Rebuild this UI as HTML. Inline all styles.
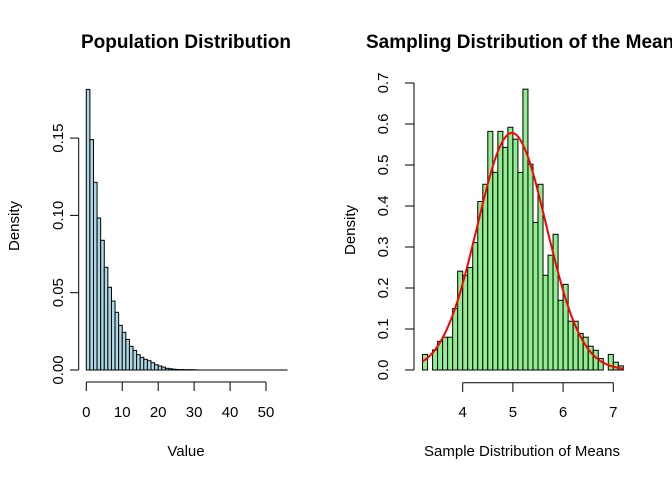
<!DOCTYPE html>
<html><head><meta charset="utf-8"><style>
body{margin:0;background:#fff}
svg{display:block;font-family:"Liberation Sans",Arial,sans-serif}
</style></head><body>
<svg id="c" width="672" height="480" viewBox="0 0 672 480">
<text x="186" y="48" text-anchor="middle" font-weight="bold" font-size="19">Population Distribution</text>
<text x="366" y="48" font-weight="bold" font-size="19">Sampling Distribution of the Mean</text>
<text transform="translate(19,226) rotate(-90)" text-anchor="middle" font-size="15">Density</text>
<text x="186" y="456" text-anchor="middle" font-size="15">Value</text>
<text transform="translate(355,230) rotate(-90)" text-anchor="middle" font-size="15">Density</text>
<text x="522" y="456" text-anchor="middle" font-size="15">Sample Distribution of Means</text>
<g id="L"></g>
<g id="R"></g>
</svg>
<script>
const popDensity=[0.1815,0.149,0.1214,0.0983,0.0839,0.0664,0.0535,0.0446,0.0373,0.0289,0.0244,0.0198,0.0153,0.0127,0.0099,0.0082,0.0069,0.006,0.0047,0.0034,0.0026,0.0019,0.0011,0.0008,0.0005,0.0003,0.0003,0.0002,0.0002,0.0002,0.0001,0,0,0,0,0,0,0,0,0,0,0,0,0,0,0,0,0,0,0,0,0,0,0,0,0];
const popXTicks=[0,10,20,30,40,50];
const popYTicks=["0.00","0.05","0.10","0.15"];
const sampStart=3.2, sampWidth=0.1;
const sampDensity=[0.038,0,0.049,0.07,0.08,0.08,0.15,0.241,0.231,0.25,0.311,0.411,0.453,0.582,0.482,0.582,0.543,0.592,0.563,0.482,0.685,0.502,0.36,0.453,0.231,0.28,0.331,0.17,0.209,0.119,0.119,0.089,0.08,0.058,0.048,0.028,0,0.038,0.019,0.01];
const sampXTicks=[4,5,6,7];
const sampYTicks=["0.0","0.1","0.2","0.3","0.4","0.5","0.6","0.7"];
const normMean=4.98, normSd=0.69;
const NS="http://www.w3.org/2000/svg";
function mk(p,t,a,txt){const e=document.createElementNS(NS,t);for(const k in a)e.setAttribute(k,a[k]);if(txt!==undefined)e.textContent=txt;p.appendChild(e);return e;}
// left
const L=document.getElementById('L');
const lx=v=>86.3+v*3.594, ly=v=>370-v*1546;
mk(L,'line',{x1:lx(0),x2:lx(popDensity.length),y1:370,y2:370,stroke:'#000'});
popDensity.forEach((d,i)=>{
 if(d<=0)return;
 const r=mk(L,'rect',{x:lx(i),y:ly(d),width:3.594,height:370-ly(d),fill:'#add8e6',stroke:'#000','stroke-width':1});
 
 
});
mk(L,'line',{x1:lx(0),x2:lx(popXTicks[popXTicks.length-1]),y1:382,y2:382,stroke:'#000'});
popXTicks.forEach(t=>{mk(L,'line',{x1:lx(t),x2:lx(t),y1:382,y2:391,stroke:'#000'});
 const e=mk(L,'text',{x:lx(t),y:417,'text-anchor':'middle','font-size':15},String(t));
 
 });
mk(L,'line',{x1:78.7,x2:78.7,y1:ly(0),y2:ly(0.15),stroke:'#000'});
popYTicks.forEach(t=>{const y=ly(+t);mk(L,'line',{x1:70,x2:78.7,y1:y,y2:y,stroke:'#000'});
 const e=mk(L,'text',{transform:`translate(63,${y}) rotate(-90)`,'text-anchor':'middle','font-size':15},t);
 
 });
// right
const R=document.getElementById('R');
const rx=v=>462.7+(v-4)*50.2, ry=v=>370-v*410;
sampDensity.forEach((d,i)=>{
 if(d<=0)return;
 const x0=sampStart+i*sampWidth;
 const r=mk(R,'rect',{x:rx(x0),y:ry(d),width:rx(x0+sampWidth)-rx(x0),height:370-ry(d),fill:'#90ee90',stroke:'#000','stroke-width':1});
 
 
});
let pts=[];const x1=sampStart,x2=sampStart+sampDensity.length*sampWidth;
for(let k=0;k<=200;k++){const x=x1+(x2-x1)*k/200;const y=Math.exp(-0.5*((x-normMean)/normSd)**2)/(normSd*Math.sqrt(2*Math.PI));pts.push(rx(x).toFixed(1)+','+ry(y).toFixed(1));}
const c=mk(R,'polyline',{points:pts.join(' '),fill:'none',stroke:'#ff0000','stroke-width':2});


mk(R,'line',{x1:rx(4),x2:rx(7),y1:382.7,y2:382.7,stroke:'#000'});
sampXTicks.forEach(t=>{mk(R,'line',{x1:rx(t),x2:rx(t),y1:382.7,y2:392,stroke:'#000'});
 const e=mk(R,'text',{x:rx(t),y:417,'text-anchor':'middle','font-size':15},String(t));
 
 });
mk(R,'line',{x1:414,x2:414,y1:ry(0),y2:ry(0.7),stroke:'#000'});
sampYTicks.forEach(t=>{const y=ry(+t);mk(R,'line',{x1:405,x2:414,y1:y,y2:y,stroke:'#000'});
 const e=mk(R,'text',{transform:`translate(388,${y}) rotate(-90)`,'text-anchor':'middle','font-size':15},t);
 
 });
</script>
</body></html>
